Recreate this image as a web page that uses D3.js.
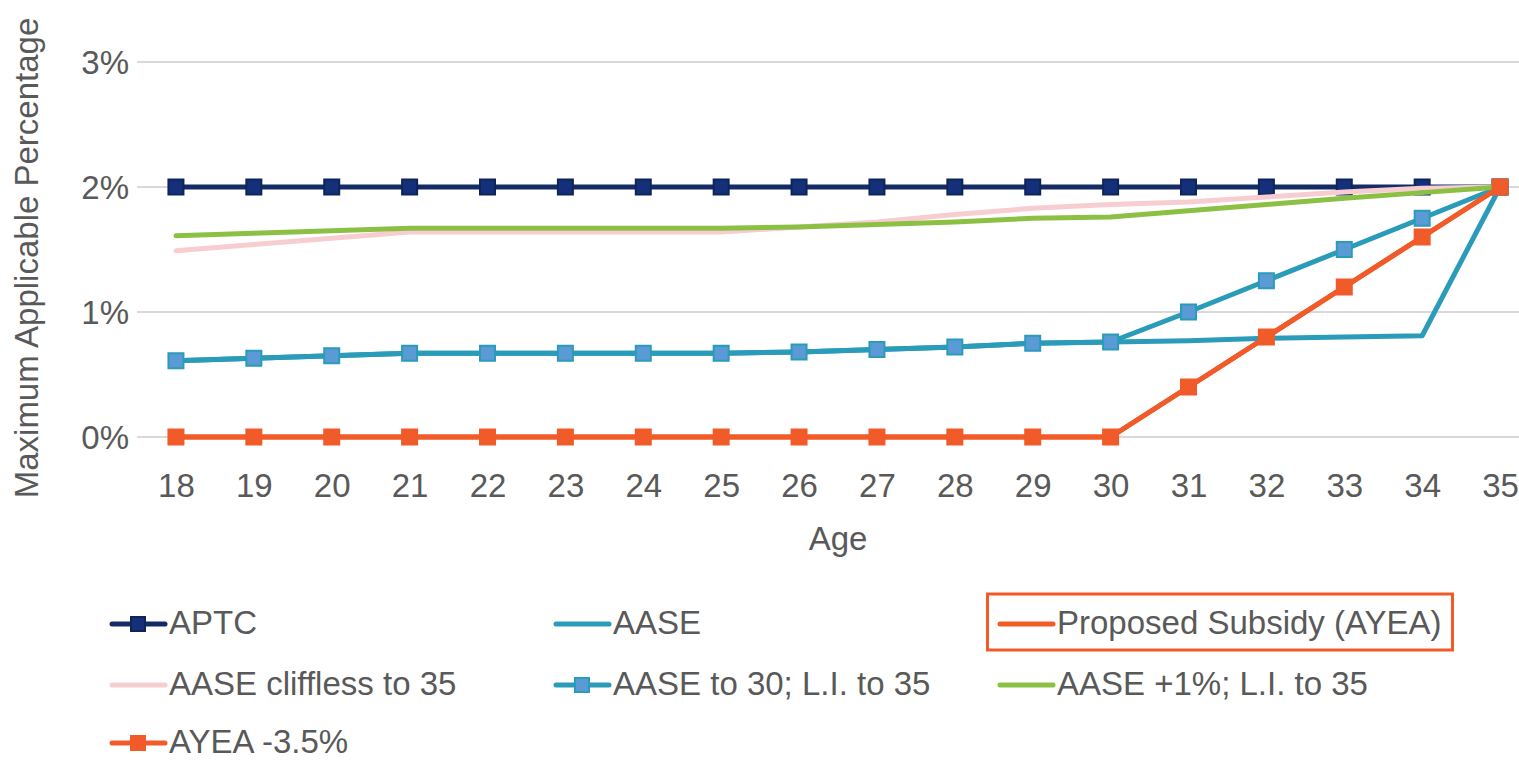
<!DOCTYPE html>
<html>
<head>
<meta charset="utf-8">
<script src="https://cdn.jsdelivr.net/npm/d3@7/dist/d3.min.js"></script>
<style>
  html, body { margin: 0; padding: 0; background: #fff; }
  svg { display: block; }
  text { font-family: "Liberation Sans", Arial, sans-serif; fill: #595959; }
</style>
</head>
<body>
<svg id="chart" width="1519" height="760"></svg>
<script>
// ---------- data ----------
const ages = [18,19,20,21,22,23,24,25,26,27,28,29,30,31,32,33,34,35];
const yTicks = [0, 0.01, 0.02, 0.03];

const aptc        = [2.0,2.0,2.0,2.0,2.0,2.0,2.0,2.0,2.0,2.0,2.0,2.0,2.0,2.0,2.0,2.0,2.0,2.0];
const aase        = [0.61,0.63,0.65,0.67,0.67,0.67,0.67,0.67,0.68,0.70,0.72,0.75,0.76,0.77,0.79,0.80,0.81,2.0];
const proposed    = [0,0,0,0,0,0,0,0,0,0,0,0,0,0.4,0.8,1.2,1.6,2.0];
const cliffless   = [1.49,1.54,1.59,1.64,1.64,1.64,1.64,1.64,1.68,1.72,1.78,1.83,1.86,1.88,1.92,1.96,1.99,2.0];
const aaseTo30    = [0.61,0.63,0.65,0.67,0.67,0.67,0.67,0.67,0.68,0.70,0.72,0.75,0.76,1.0,1.25,1.5,1.75,2.0];
const aasePlus1   = [1.61,1.63,1.65,1.67,1.67,1.67,1.67,1.67,1.68,1.70,1.72,1.75,1.76,1.81,1.86,1.91,1.955,2.0];
const ayea35      = [0,0,0,0,0,0,0,0,0,0,0,0,0,0.4,0.8,1.2,1.6,2.0];

const seriesNames = ["APTC","AASE","Proposed Subsidy (AYEA)","AASE cliffless to 35","AASE to 30; L.I. to 35","AASE +1%; L.I. to 35","AYEA -3.5%"];

// ---------- styles ----------
const styles = [
  {values: aptc,      color: "#142B64", marker: true,  mFill: "#14307A", mStroke: "#0F2558"},
  {values: aase,      color: "#2A9BB9", marker: false},
  {values: proposed,  color: "#F15A29", marker: false},
  {values: cliffless, color: "#F8CDD2", marker: false},
  {values: aaseTo30,  color: "#2A9BB9", marker: true,  mFill: "#5B9BD5", mStroke: "#2A9BB9"},
  {values: aasePlus1, color: "#8CC044", marker: false},
  {values: ayea35,    color: "#F15A29", marker: true,  mFill: "#F15A29", mStroke: "#F15A29"}
];
const series = seriesNames.map((name, i) => Object.assign({name}, styles[i]));

// ---------- scales ----------
const svg = d3.select("#chart");
const x = d3.scalePoint().domain(ages).range([137, 1539]).padding(0.5);
const y = d3.scaleLinear().domain([0, 0.03]).range([437, 62]);

// gridlines
svg.append("g").selectAll("line").data(yTicks).join("line")
  .attr("x1", 137).attr("x2", 1539)
  .attr("y1", d => y(d)).attr("y2", d => y(d))
  .attr("stroke", "#D9D9D9").attr("stroke-width", 2);

// y axis
const yAxis = d3.axisLeft(y).tickValues(yTicks).tickFormat(d3.format(".0%")).tickSize(0).tickPadding(0);
const gy = svg.append("g").attr("transform", "translate(129,0)").call(yAxis);
gy.select(".domain").remove();
gy.selectAll("text").attr("font-size", 33).attr("fill", "#595959")
  .attr("font-family", "'Liberation Sans', Arial, sans-serif").attr("dy", "0.36em");

// x axis
const xAxis = d3.axisBottom(x).tickSize(0).tickPadding(0);
const gx = svg.append("g").attr("transform", "translate(0,473)").call(xAxis);
gx.select(".domain").remove();
gx.selectAll("text").attr("font-size", 33).attr("fill", "#595959")
  .attr("font-family", "'Liberation Sans', Arial, sans-serif").attr("dy", "0.72em");

// axis titles
svg.append("text").attr("x", 838).attr("y", 550).attr("text-anchor", "middle")
  .attr("font-size", 33).text("Age");
svg.append("text").attr("transform", "translate(38,258) rotate(-90)").attr("text-anchor", "middle")
  .attr("font-size", 33).text("Maximum Applicable Percentage");

// lines
const line = d3.line().x((d, i) => x(ages[i])).y(d => y(d / 100));
const gLines = svg.append("g");
series.forEach(s => {
  gLines.append("path").datum(s.values).attr("d", line)
    .attr("fill", "none").attr("stroke", s.color).attr("stroke-width", 5)
    .attr("stroke-linejoin", "round").attr("stroke-linecap", "round");
  if (s.marker) {
    gLines.append("g").selectAll("rect").data(s.values).join("rect")
      .attr("x", (d, i) => x(ages[i]) - 7.5).attr("y", d => y(d / 100) - 7.5)
      .attr("width", 15).attr("height", 15)
      .attr("fill", s.mFill).attr("stroke", s.mStroke).attr("stroke-width", 2);
  }
});

// legend
const legCols = [110, 554, 998];
const legRows = [624, 685, 743];
const leg = svg.append("g");
series.forEach((s, i) => {
  const cx = legCols[i % 3], cy = legRows[Math.floor(i / 3)];
  const g = leg.append("g").attr("transform", `translate(${cx},${cy})`);
  g.append("line").attr("x1", 2).attr("x2", 55).attr("y1", 0).attr("y2", 0)
    .attr("stroke", s.color).attr("stroke-width", 5).attr("stroke-linecap", "round");
  if (s.marker) {
    g.append("rect").attr("x", 21).attr("y", -7).attr("width", 14).attr("height", 14)
      .attr("fill", s.mFill).attr("stroke", s.mStroke).attr("stroke-width", 2);
  }
  g.append("text").attr("x", 59).attr("y", 10).attr("font-size", 33).text(s.name);
});
// highlight box around "Proposed Subsidy (AYEA)"
leg.append("rect").attr("x", 987.5).attr("y", 594).attr("width", 465).attr("height", 56)
  .attr("fill", "none").attr("stroke", "#F15A29").attr("stroke-width", 3);
</script>
</body>
</html>
